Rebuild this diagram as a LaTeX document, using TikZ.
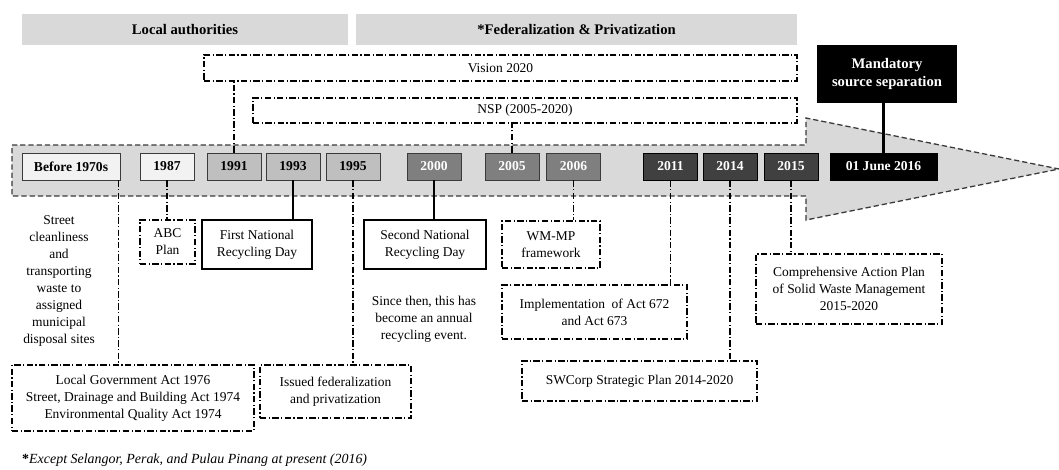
\documentclass[tikz,border=0pt]{standalone}
\usepackage{fontspec}
\setmainfont{Liberation Serif}
\usepackage{tikz}
\usetikzlibrary{calc}

\definecolor{bandgray}{HTML}{D9D9D9}
\definecolor{paleyear}{HTML}{F2F2F2}
\definecolor{midyear}{HTML}{BFBFBF}
\definecolor{darkyear}{HTML}{7F7F7F}
\definecolor{deepyear}{HTML}{404040}
\definecolor{rimgray}{HTML}{3A3A3A}

\newcommand{\unitpx}{0.03cm}

\begin{document}
\begin{tikzpicture}[x=\unitpx,y=-\unitpx,
    band/.style={fill=bandgray,inner sep=0pt,minimum height=31*\unitpx,font=\fontsize{12.5}{14}\selectfont\bfseries},
    yearbox/.style={draw=rimgray,line width=0.8pt,inner sep=0pt,minimum width=54*\unitpx,minimum height=27*\unitpx,font=\fontsize{11.6}{13}\selectfont\bfseries},
    paleyr/.style={yearbox,fill=paleyear},
    midyr/.style={yearbox,fill=midyear},
    darkyr/.style={yearbox,fill=darkyear,text=white},
    deepyr/.style={yearbox,fill=deepyear,draw=black,text=white},
    dashdot/.style={line width=0.9pt,dash pattern=on 5.5pt off 2pt on 1pt off 2pt},
    plainbox/.style={draw,line width=0.9pt,inner sep=0pt,align=center,font=\fontsize{11.5}{14.5}\selectfont},
    planbox/.style={plainbox,dashdot},
    solidlink/.style={line width=0.9pt},
    notetext/.style={align=center,inner sep=0pt,font=\fontsize{11.5}{14.5}\selectfont}
]
    \useasboundingbox (0,0) rectangle (1059,469);

    \node[band,minimum width=326*\unitpx] (local) at (185,29.5) {Local authorities};
    \node[band,minimum width=441*\unitpx] (federal) at (576.5,29.5) {*Federalization \& Privatization};

    \node[planbox,minimum width=593*\unitpx,minimum height=26*\unitpx] (vision) at (500.5,68) {Vision 2020};
    \node[planbox,minimum width=544*\unitpx,minimum height=25*\unitpx] (nsp) at (525,110.5) {NSP (2005-2020)};

    \draw[fill=bandgray,draw=rimgray,line width=1.1pt,dash pattern=on 4.5pt off 2.5pt]
        (12,145) -- (806,145) -- (806,118) -- (1059,169) -- (806,220) -- (806,196) -- (12,196) -- cycle;

    \node[paleyr,minimum width=98*\unitpx] (b1970) at (71,166.5) {Before 1970s};
    \node[paleyr] (y1987) at (167,166.5) {1987};
    \node[midyr] (y1991) at (234,166.5) {1991};
    \node[midyr] (y1993) at (293,166.5) {1993};
    \node[midyr] (y1995) at (353,166.5) {1995};
    \node[darkyr] (y2000) at (434,166.5) {2000};
    \node[darkyr] (y2005) at (512,166.5) {2005};
    \node[darkyr] (y2006) at (573.5,166.5) {2006};
    \node[deepyr] (y2011) at (670.5,166.5) {2011};
    \node[deepyr] (y2014) at (730,166.5) {2014};
    \node[deepyr] (y2015) at (791,166.5) {2015};
    \node[yearbox,fill=black,draw=black,text=white,minimum width=107*\unitpx] (y2016) at (883.5,166.5) {01 June 2016};

    \node[fill=black,text=white,align=center,inner sep=0pt,minimum width=140*\unitpx,minimum height=58*\unitpx,
        font=\fontsize{12.5}{15}\selectfont\bfseries] (mandatory) at (887,74) {Mandatory\\source separation};

    \node[notetext] (street) at (59,281) {Street\\cleanliness\\and\\transporting\\waste to\\assigned\\municipal\\disposal sites};
    \node[planbox,minimum width=242*\unitpx,minimum height=66*\unitpx] (lgact) at (133,398)
        {Local Government Act 1976\\Street, Drainage and Building Act 1974\\Environmental Quality Act 1974};
    \node[planbox,minimum width=55*\unitpx,minimum height=44*\unitpx] (abc) at (167.5,242) {ABC\\Plan};
    \node[plainbox,minimum width=110*\unitpx,minimum height=49*\unitpx] (first) at (257,244.5) {First National\\Recycling Day};
    \node[planbox,minimum width=151*\unitpx,minimum height=53*\unitpx] (issued) at (335.5,391.5) {Issued federalization\\and privatization};
    \node[plainbox,minimum width=122*\unitpx,minimum height=49*\unitpx] (second) at (425,244.5) {Second National\\Recycling Day};
    \node[notetext] (since) at (424,319) {Since then, this has\\become an annual\\recycling event.};
    \node[planbox,minimum width=98*\unitpx,minimum height=47*\unitpx] (wmmp) at (551,244.5) {WM-MP\\framework};
    \node[planbox,minimum width=185*\unitpx,minimum height=54*\unitpx] (impl) at (594.5,312) {Implementation\ \ of Act 672\\and Act 673};
    \node[planbox,minimum width=235*\unitpx,minimum height=40*\unitpx] (swcorp) at (639.5,381) {SWCorp Strategic Plan 2014-2020};
    \node[planbox,minimum width=186*\unitpx,minimum height=70*\unitpx] (compr) at (849,289)
        {Comprehensive Action Plan\\of Solid Waste Management\\2015-2020};

    \node[anchor=west,inner sep=0pt,font=\fontsize{11.9}{14}\selectfont] (footnote) at (22,460)
        {\textbf{*}\textit{Except Selangor, Perak, and Pulau Pinang at present (2016)}};

    \draw[dashdot] (y1991.north) -- (y1991.north |- vision.south);
    \draw[dashdot] (y2005.north) -- (y2005.north |- nsp.south);
    \draw[line width=1.8pt] (y2016.north) -- (y2016.north |- mandatory.south);

    \coordinate (b1970tap) at ($(b1970.south east)+(-2,0)$);
    \draw[dashdot] (b1970tap) -- (b1970tap |- lgact.north);
    \draw[dashdot] (y1987.south) -- (y1987.south |- abc.north);
    \draw[solidlink] (y1993.south) -- (y1993.south |- first.north);
    \draw[dashdot] (y1995.south) -- (y1995.south |- issued.north);
    \draw[solidlink] (y2000.south) -- (y2000.south |- second.north);
    \draw[dashdot] (y2006.south) -- (y2006.south |- wmmp.north);
    \draw[dashdot] (y2011.south) -- (y2011.south |- impl.north);
    \draw[dashdot] (y2014.south) -- (y2014.south |- swcorp.north);
    \draw[dashdot] (y2015.south) -- (y2015.south |- compr.north);
\end{tikzpicture}
\end{document}
